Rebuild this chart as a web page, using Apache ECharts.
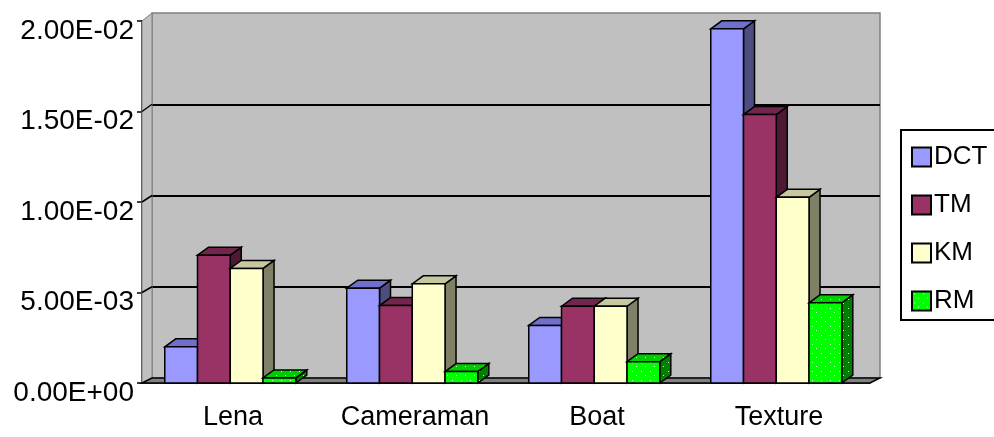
<!DOCTYPE html>
<html>
<head>
<meta charset="utf-8">
<script src="https://cdn.jsdelivr.net/npm/echarts@6/dist/echarts.min.js"></script>
<style>
  html, body { margin: 0; padding: 0; background: #fff; }
  #chart { width: 994px; height: 437px; }
</style>
</head>
<body>
<div id="chart"></div>
<script>
// data
var categories = ['Lena', 'Cameraman', 'Boat', 'Texture'];
var seriesNames = ['DCT', 'TM', 'KM', 'RM'];
var dctValues = [0.0020, 0.00524, 0.00318, 0.01957];
var tmValues = [0.00706, 0.00428, 0.00424, 0.01483];
var kmValues = [0.00633, 0.00548, 0.00424, 0.01026];
var rmValues = [0.00028, 0.00063, 0.00118, 0.00443];
var yTicks = [0, 0.005, 0.01, 0.015, 0.02];
var yTickLabels = ['0.00E+00', '5.00E-03', '1.00E-02', '1.50E-02', '2.00E-02'];

// layout (front plane and back wall)
var FRONT = { left: 142, right: 870, top: 21, bottom: 383 };
var BACK = { left: 152, right: 880, top: 13, bottom: 378 };
var DX = 11, DY = -8;
var FONT = '"Liberation Sans", Arial, sans-serif';

// dotted green fill like the original RM bars
function dots(base) {
  var c = document.createElement('canvas');
  c.width = 9; c.height = 9;
  var ctx = c.getContext('2d');
  ctx.fillStyle = base;
  ctx.fillRect(0, 0, 9, 9);
  ctx.fillStyle = 'rgba(255,255,255,0.85)';
  ctx.fillRect(2, 2, 1, 1);
  ctx.fillRect(6, 6, 1, 1);
  return { image: c, repeat: 'repeat' };
}

var palette = [
  { front: '#9999FF', top: '#7070CC', side: '#4D4D80' },
  { front: '#993366', top: '#73264D', side: '#4D1933' },
  { front: '#FFFFCC', top: '#C8C8A0', side: '#808066' },
  { front: dots('#00FF00'), top: dots('#00CC00'), side: dots('#008000') }
];
var allValues = [dctValues, tmValues, kmValues, rmValues];

function renderBar(sIdx) {
  return function (params, api) {
    var cat = api.value(0);
    var val = api.value(1);
    var base = api.coord([cat, 0]);
    var top = api.coord([cat, val]);
    var band = api.size([1, 0])[0];
    var w = band * 0.18;
    var x0 = base[0] - band / 2 + band * 0.125 + sIdx * w;
    var x1 = x0 + w;
    var y0 = base[1], y1 = top[1];
    var col = palette[sIdx];
    var stroke = { stroke: '#000', lineWidth: 1.5 };
    return {
      type: 'group',
      children: [
        {
          type: 'polygon',
          shape: { points: [[x1, y0], [x1 + DX, y0 + DY], [x1 + DX, y1 + DY], [x1, y1]] },
          style: Object.assign({ fill: col.side }, stroke)
        },
        {
          type: 'polygon',
          shape: { points: [[x0, y1], [x0 + DX, y1 + DY], [x1 + DX, y1 + DY], [x1, y1]] },
          style: Object.assign({ fill: col.top }, stroke)
        },
        {
          type: 'rect',
          shape: { x: x0, y: y1, width: w, height: y0 - y1 },
          style: Object.assign({ fill: col.front }, stroke)
        }
      ]
    };
  };
}

// left wall + floor + connectors between front ticks and back gridlines
var graphics = [
  {
    type: 'polygon', z: 1,
    shape: { points: [[FRONT.left, FRONT.top], [BACK.left, BACK.top], [BACK.left, BACK.bottom], [FRONT.left, FRONT.bottom]] },
    style: { fill: '#C0C0C0', stroke: '#808080', lineWidth: 1 }
  },
  {
    type: 'polygon', z: 1,
    shape: { points: [[FRONT.left, FRONT.bottom], [BACK.left, BACK.bottom], [BACK.right, BACK.bottom], [FRONT.right, FRONT.bottom]] },
    style: { fill: '#808080', stroke: '#000', lineWidth: 1.5 }
  }
];
yTicks.forEach(function (v, i) {
  if (i === 0 || i === yTicks.length - 1) return;
  var yf = FRONT.bottom - v / 0.02 * (FRONT.bottom - FRONT.top);
  var yb = BACK.bottom - v / 0.02 * (BACK.bottom - BACK.top);
  graphics.push({
    type: 'line', z: 1,
    shape: { x1: FRONT.left, y1: yf, x2: BACK.left, y2: yb },
    style: { stroke: '#000', lineWidth: 1.5 }
  });
});

var series = seriesNames.map(function (name, s) {
  return {
    name: name,
    type: 'custom',
    xAxisIndex: 1,
    yAxisIndex: 1,
    z: 3,
    itemStyle: { color: palette[s].front, borderColor: '#000', borderWidth: 1.5 },
    encode: { x: 0, y: 1 },
    data: categories.map(function (c, i) { return [i, allValues[s][i]]; }),
    renderItem: renderBar(s)
  };
});

var chart = echarts.init(document.getElementById('chart'), null, { renderer: 'canvas' });
chart.setOption({
  animation: false,
  backgroundColor: '#fff',
  grid: [
    {
      left: BACK.left, right: 994 - BACK.right, top: BACK.top, bottom: 437 - BACK.bottom,
      show: true, backgroundColor: '#C0C0C0', borderColor: '#808080', borderWidth: 1.5
    },
    {
      left: FRONT.left, right: 994 - FRONT.right, top: FRONT.top, bottom: 437 - FRONT.bottom
    }
  ],
  xAxis: [
    { gridIndex: 0, type: 'category', data: categories, show: false },
    {
      gridIndex: 1, type: 'category', data: categories,
      axisLine: { lineStyle: { color: '#000', width: 1.5 } },
      axisTick: { inside: true, length: 5, lineStyle: { color: '#000', width: 1.5 } },
      axisLabel: { color: '#000', fontSize: 27, fontFamily: FONT, margin: 21, interval: 0 }
    }
  ],
  yAxis: [
    {
      gridIndex: 0, type: 'value', min: 0, max: 0.02, interval: 0.005,
      axisLine: { show: false }, axisTick: { show: false }, axisLabel: { show: false },
      splitLine: { showMinLine: false, showMaxLine: false, lineStyle: { color: '#000', width: 2 } }
    },
    {
      gridIndex: 1, type: 'value', min: 0, max: 0.02, interval: 0.005,
      axisLine: { show: true, lineStyle: { color: '#000', width: 1.5 } },
      axisTick: { show: true, length: 5, lineStyle: { color: '#000', width: 1.5 } },
      splitLine: { show: false },
      axisLabel: {
        color: '#000', fontSize: 28, fontFamily: FONT, margin: 8,
        formatter: function (v) {
          var i = Math.round(v / 0.005);
          return '{a|' + yTickLabels[i] + '}';
        },
        rich: {
          a: { fontSize: 28, fontFamily: FONT, color: '#000', padding: [20, 0, 0, 0] }
        }
      }
    }
  ],
  legend: {
    orient: 'vertical',
    left: 901, top: 130,
    padding: [14, 10, 6, 10],
    itemWidth: 19, itemHeight: 19,
    itemGap: 22,
    icon: 'rect',
    borderColor: '#000', borderWidth: 2,
    textStyle: { color: '#000', fontSize: 26, fontFamily: FONT, lineHeight: 22, padding: [0, 0, 0, -2] },
    data: seriesNames
  },
  graphic: graphics,
  series: series
});
</script>
</body>
</html>
